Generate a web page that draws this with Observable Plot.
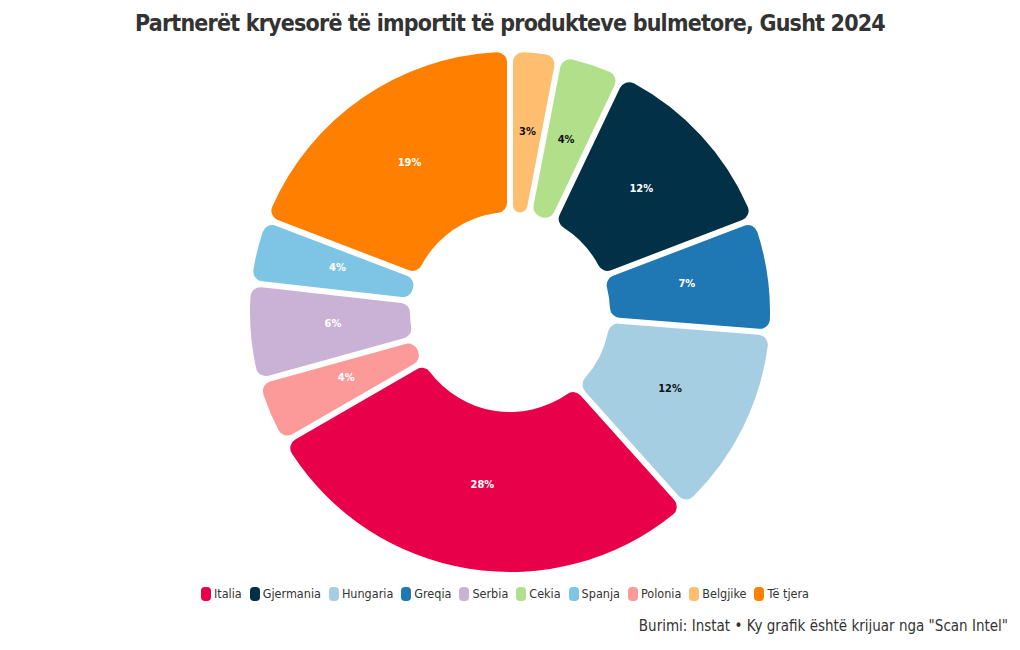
<!DOCTYPE html>
<html>
<head>
<meta charset="utf-8">
<script src="https://cdn.jsdelivr.net/npm/d3@7"></script>
<script src="https://cdn.jsdelivr.net/npm/@observablehq/plot@0.6"></script>
<style>
  html, body { margin: 0; padding: 0; background: #fff; }
  body { width: 1020px; height: 650px; overflow: hidden; font-family: "DejaVu Sans Condensed", sans-serif; }
  #title { height: 44px; text-align: center; font-weight: bold; font-size: 23px; color: #333; line-height: 46px; letter-spacing: -0.8px; }
  #legend { display: flex; justify-content: center; gap: 8px; font-size: 12.5px; color: #333; margin-top: 7px; padding-right: 10px; }
  #legend .item { display: flex; align-items: center; gap: 3px; }
  #legend .sw { width: 10px; height: 14px; border-radius: 4px; display: inline-block; }
  #caption { position: absolute; right: 12px; top: 617px; font-size: 15px; color: #333; }
</style>
</head>
<body>
<div id="title">Partnerët kryesorë të importit të produkteve bulmetore, Gusht 2024</div>
<div id="chart"></div>
<div id="legend"></div>
<div id="caption">Burimi: Instat • Ky grafik është krijuar nga "Scan Intel"</div>
<script>
const countries = ["Belgjike", "Cekia", "Gjermania", "Greqia", "Hungaria", "Italia", "Polonia", "Serbia", "Spanja", "Të tjera"];
const shares    = [3, 4, 12, 7, 12, 28, 4, 6, 4, 19];
const colors    = ["#fdbf6f", "#b2df8a", "#023047", "#1f78b4", "#a6cee3", "#e8004a", "#fb9a99", "#cab2d6", "#7ec5e5", "#ff7f00"];
const labelColors = ["#111", "#111", "#fff", "#fff", "#111", "#fff", "#fff", "#fff", "#fff", "#fff"];
const legendOrder = ["Italia", "Gjermania", "Hungaria", "Greqia", "Serbia", "Cekia", "Spanja", "Polonia", "Belgjike", "Të tjera"];

const data = countries.map((c, i) => ({country: c, value: shares[i], color: colors[i], labelColor: labelColors[i]}));
const pie = d3.pie().sort(null).value(d => d.value).startAngle(0).endAngle(2 * Math.PI);
const arcs = pie(data);

const innerFrac = 100 / 260;
const labelFrac = 0.685;
const labels = arcs.map(a => {
  const m = (a.startAngle + a.endAngle) / 2;
  return {x: labelFrac * Math.sin(m), y: labelFrac * Math.cos(m), text: a.data.value + "%", fill: a.data.labelColor};
});

const arcMark = (index, scales) => {
  const cx = scales.x(0), cy = scales.y(0), R = scales.x(1) - scales.x(0);
  const ri = R * innerFrac;
  const arc = d3.arc().innerRadius(ri).outerRadius(R).cornerRadius(10)
    .padAngle(6 / Math.sqrt(ri * ri + R * R));
  const g = d3.create("svg:g").attr("transform", `translate(${cx},${cy})`);
  g.selectAll("path").data(arcs).join("path")
    .attr("d", arc)
    .attr("fill", d => d.data.color);
  return g.node();
};

const chart = Plot.plot({
  width: 1020,
  height: 535,
  margin: 0,
  x: {domain: [-1, 1], range: [250, 770], axis: null},
  y: {domain: [-1, 1], range: [528, 8], axis: null},
  marks: [
    arcMark,
    Plot.text(labels, {x: "x", y: "y", dy: -3.5, text: "text", fill: "fill", fontSize: 11, fontWeight: 600, fontFamily: "'DejaVu Sans Condensed', sans-serif"})
  ]
});
document.getElementById("chart").appendChild(chart);

const legend = d3.select("#legend");
legendOrder.forEach(name => {
  const i = countries.indexOf(name);
  const item = legend.append("div").attr("class", "item");
  item.append("span").attr("class", "sw").style("background", colors[i]);
  item.append("span").text(name);
});
</script>
</body>
</html>
